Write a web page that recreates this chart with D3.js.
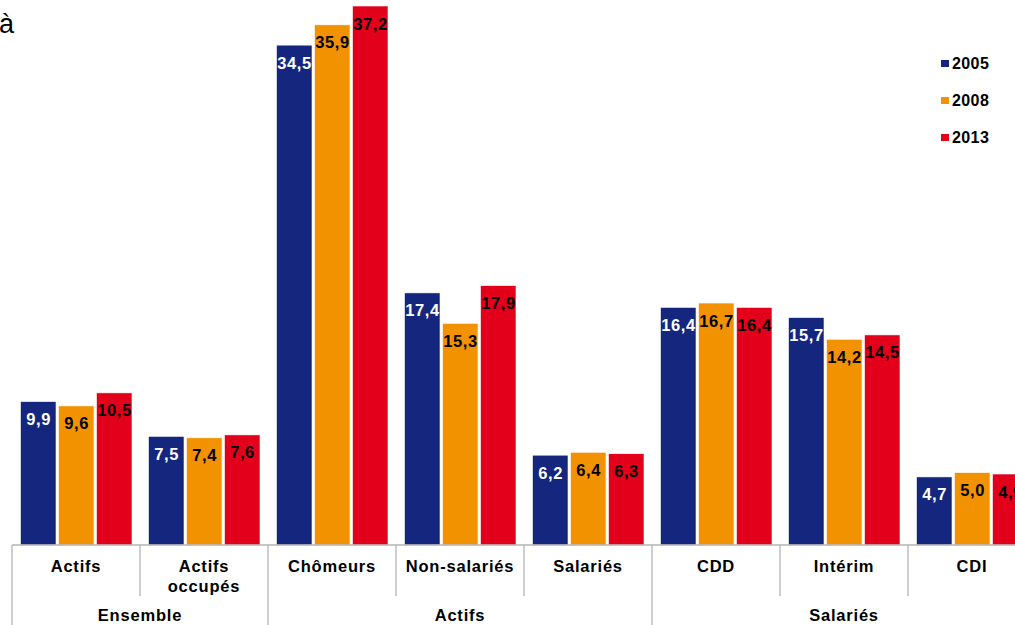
<!DOCTYPE html>
<html>
<head>
<meta charset="utf-8">
<script src="https://cdn.jsdelivr.net/npm/d3@7"></script>
<style>
  body { margin: 0; background: #fff; }
  svg { font-family: "Liberation Sans", Arial, sans-serif; }
</style>
</head>
<body>
<div id="chart"></div>
<script>
// categories and groups
const categories = ["Actifs", "Actifs occupés", "Chômeurs", "Non-salariés", "Salariés", "CDD", "Intérim", "CDI"];
const groups = [
  { name: "Ensemble", first: 0, last: 1 },
  { name: "Actifs", first: 2, last: 4 },
  { name: "Salariés", first: 5, last: 7 }
];
const years = ["2005", "2008", "2013"];
const v2005 = [9.9, 7.5, 34.5, 17.4, 6.2, 16.4, 15.7, 4.7];
const v2008 = [9.6, 7.4, 35.9, 15.3, 6.4, 16.7, 14.2, 5.0];
const v2013 = [10.5, 7.6, 37.2, 17.9, 6.3, 16.4, 14.5, 4.9];
const colors = ["#15267f", "#f39200", "#e2001a"];
const labelColors = ["#fff", "#000", "#000"];

const width = 1015, height = 625;
const baseY = 545;

const series = [v2005, v2008, v2013];
let data = [];
categories.forEach((c, i) => {
  years.forEach((y, j) => data.push({ cat: c, year: y, j: j, value: series[j][i] }));
});

let svg = d3.select("#chart").append("svg")
  .attr("width", width).attr("height", height);

let x = d3.scaleBand()
  .domain(categories)
  .range([12, 1036]);

let xIn = d3.scaleBand()
  .domain(years)
  .range([8.5, 120])
  .paddingInner(0.065);

let y = d3.scaleLinear()
  .domain([0, 37.2])
  .range([baseY, 6]);

// stray title fragment at top-left
svg.append("text")
  .attr("x", -1).attr("y", 33)
  .style("font-size", "27px")
  .text("à");

// bars
let bar = svg.selectAll(".bar")
  .data(data)
  .join("g")
  .attr("class", "bar");

bar.append("rect")
  .attr("x", d => x(d.cat) + xIn(d.year))
  .attr("width", xIn.bandwidth())
  .attr("y", d => y(d.value))
  .attr("height", d => y(0) - y(d.value))
  .attr("fill", d => colors[d.j])
  .attr("stroke", "#fff")
  .attr("stroke-width", 0.6);

bar.append("text")
  .text(d => d.value.toFixed(1).replace(".", ","))
  .attr("x", d => x(d.cat) + xIn(d.year) + xIn.bandwidth() / 2 + 0.3)
  .attr("y", d => y(d.value) + 23.5)
  .attr("text-anchor", "middle")
  .style("font-size", "16.5px")
  .style("font-weight", "bold")
  .style("letter-spacing", "0.6px")
  .style("fill", d => labelColors[d.j]);

// axis: baseline + separators
let axis = svg.append("g").attr("stroke", "#b3b3b3").attr("stroke-width", 1.3);
axis.append("line")
  .attr("x1", x.range()[0]).attr("x2", x.range()[1])
  .attr("y1", baseY).attr("y2", baseY);

categories.forEach((c, i) => {
  let isGroupEdge = groups.some(g => g.first === i);
  axis.append("line")
    .attr("x1", x(c)).attr("x2", x(c))
    .attr("y1", baseY).attr("y2", isGroupEdge ? height : 596);
});
axis.append("line")
  .attr("x1", x.range()[1]).attr("x2", x.range()[1])
  .attr("y1", baseY).attr("y2", height);

// category labels
let catLabels = svg.append("g")
  .style("font-size", "16.5px")
  .style("font-weight", "bold")
  .style("letter-spacing", "0.8px")
  .attr("text-anchor", "middle");

categories.forEach(c => {
  let words = c === "Actifs occupés" ? ["Actifs", "occupés"] : [c];
  let t = catLabels.append("text")
    .attr("x", x(c) + x.bandwidth() / 2)
    .attr("y", 572);
  words.forEach((w, k) => {
    t.append("tspan")
      .attr("x", x(c) + x.bandwidth() / 2)
      .attr("dy", k === 0 ? 0 : 20)
      .text(w);
  });
});

// group labels
svg.append("g")
  .selectAll("text")
  .data(groups)
  .join("text")
  .attr("x", g => (x(categories[g.first]) + x(categories[g.last]) + x.bandwidth()) / 2)
  .attr("y", 621)
  .attr("text-anchor", "middle")
  .style("font-size", "16.5px")
  .style("font-weight", "bold")
  .style("letter-spacing", "0.8px")
  .text(g => g.name);

// legend
let legend = svg.append("g")
  .selectAll("g")
  .data(years)
  .join("g")
  .attr("transform", (d, i) => `translate(941, ${60 + i * 37})`);

legend.append("rect")
  .attr("width", 8).attr("height", 7)
  .attr("fill", (d, i) => colors[i]);

legend.append("text")
  .attr("x", 11).attr("y", 9)
  .style("font-size", "16px")
  .style("font-weight", "bold")
  .style("letter-spacing", "0.4px")
  .text(d => d);
</script>
</body>
</html>
